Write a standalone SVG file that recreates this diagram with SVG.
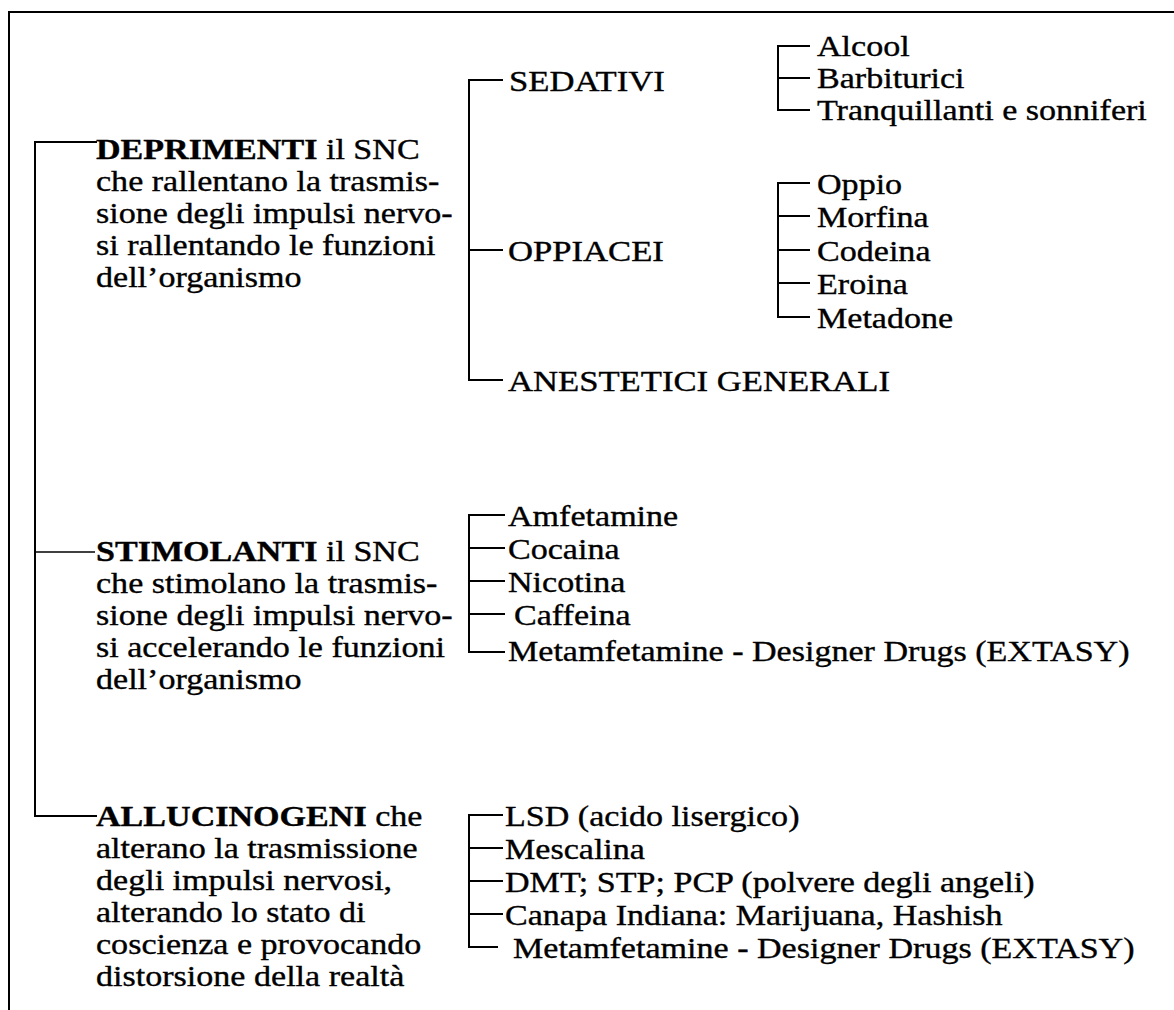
<svg xmlns="http://www.w3.org/2000/svg" width="1174" height="1010" viewBox="0 0 1174 1010">
<style>
text{font-family:"Liberation Serif","Times New Roman",serif;font-size:29px;fill:#000;stroke:#000;stroke-width:0.35}
.b{font-weight:bold}
.c{stroke:#000;stroke-width:2;fill:none}
.th{stroke:#000;stroke-width:1.3;fill:none}
</style>
<rect width="1174" height="1010" fill="#fff"/>
<g id="frame">
<path class="c" d="M9,1010 V12 H1174"/>
</g>
<g id="connectors">
<path class="c" d="M97,142 H35 V816 H97" stroke-width="2.5"/>
<path class="th" d="M35,552 H95"/>
<path class="c" d="M503,80 H469 V380 H503"/>
<path class="c" d="M469,250 H503"/>
<path class="c" d="M810,46 H778 V110 H810"/>
<path class="c" d="M778,78 H810"/>
<path class="c" d="M810,183 H778 V317 H810"/>
<path class="c" d="M778,216 H810 M778,250 H810 M778,283 H810"/>
<path class="c" d="M505,515 H469 V652 H505"/>
<path class="c" d="M469,548 H505 M469,581 H505 M469,614 H505"/>
<path class="c" d="M503,815 H469 V947 H498"/>
<path class="c" d="M469,848 H503 M469,881 H503 M469,914 H503"/>
</g>
<g id="deprimenti">
<text transform="translate(96,159) scale(1.175,1)"><tspan class="b">DEPRIMENTI</tspan> il SNC</text>
<text transform="translate(96,191) scale(1.175,1)">che rallentano la trasmis-</text>
<text transform="translate(96,223) scale(1.175,1)">sione degli impulsi nervo-</text>
<text transform="translate(96,255) scale(1.175,1)">si rallentando le funzioni</text>
<text transform="translate(96,287) scale(1.175,1)">dell’organismo</text>
</g>
<g id="stimolanti">
<text transform="translate(96,561) scale(1.175,1)"><tspan class="b">STIMOLANTI</tspan> il SNC</text>
<text transform="translate(96,593) scale(1.175,1)">che stimolano la trasmis-</text>
<text transform="translate(96,625) scale(1.175,1)">sione degli impulsi nervo-</text>
<text transform="translate(96,657) scale(1.175,1)">si accelerando le funzioni</text>
<text transform="translate(96,689) scale(1.175,1)">dell’organismo</text>
</g>
<g id="allucinogeni">
<text transform="translate(96,826) scale(1.175,1)"><tspan class="b">ALLUCINOGENI</tspan> che</text>
<text transform="translate(96,858) scale(1.175,1)">alterano la trasmissione</text>
<text transform="translate(96,890) scale(1.175,1)">degli impulsi nervosi,</text>
<text transform="translate(96,922) scale(1.175,1)">alterando lo stato di</text>
<text transform="translate(96,954) scale(1.175,1)">coscienza e provocando</text>
<text transform="translate(96,986) scale(1.175,1)">distorsione della realtà</text>
</g>
<g id="sedativi"><text transform="translate(509,91) scale(1.195,1)">SEDATIVI</text></g>
<g id="oppiacei"><text transform="translate(508,261) scale(1.195,1)">OPPIACEI</text></g>
<g id="anestetici"><text transform="translate(508,391) scale(1.195,1)">ANESTETICI GENERALI</text></g>
<g id="sedativi-list">
<text transform="translate(817,56) scale(1.175,1)">Alcool</text>
<text transform="translate(817,88) scale(1.175,1)">Barbiturici</text>
<text transform="translate(817,120) scale(1.175,1)">Tranquillanti e sonniferi</text>
</g>
<g id="oppiacei-list">
<text transform="translate(817,194) scale(1.175,1)">Oppio</text>
<text transform="translate(817,227) scale(1.175,1)">Morfina</text>
<text transform="translate(817,261) scale(1.175,1)">Codeina</text>
<text transform="translate(817,294) scale(1.175,1)">Eroina</text>
<text transform="translate(817,328) scale(1.175,1)">Metadone</text>
</g>
<g id="stimolanti-list">
<text transform="translate(508,526) scale(1.175,1)">Amfetamine</text>
<text transform="translate(508,559) scale(1.175,1)">Cocaina</text>
<text transform="translate(508,592) scale(1.175,1)">Nicotina</text>
<text transform="translate(514,625) scale(1.175,1)">Caffeina</text>
<text transform="translate(508,661) scale(1.175,1)">Metamfetamine - Designer Drugs (EXTASY)</text>
</g>
<g id="allucinogeni-list">
<text transform="translate(505,826) scale(1.175,1)">LSD (acido lisergico)</text>
<text transform="translate(505,859) scale(1.175,1)">Mescalina</text>
<text transform="translate(505,892) scale(1.175,1)">DMT; STP; PCP (polvere degli angeli)</text>
<text transform="translate(505,925) scale(1.175,1)">Canapa Indiana: Marijuana, Hashish</text>
<text transform="translate(513,958) scale(1.175,1)">Metamfetamine - Designer Drugs (EXTASY)</text>
</g>
</svg>
